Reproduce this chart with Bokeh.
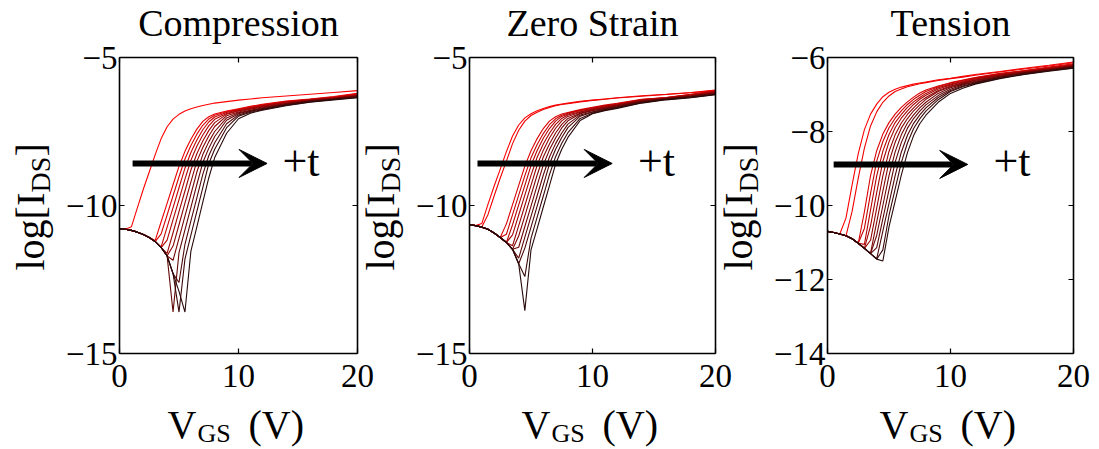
import numpy as np
from bokeh.plotting import figure
from bokeh.models import Range1d, LinearAxis, FixedTicker, Label, Arrow, VeeHead
from bokeh.embed import file_html
from bokeh.resources import INLINE

# ---------------- data ----------------
V_GS = [0, 0.5, 1, 1.5, 2, 2.5, 3, 3.5, 4, 4.5, 5, 5.5, 6, 6.5, 7, 7.5, 8, 9, 10, 11, 12, 14, 16, 18, 20]

TITLES = ["Compression", "Zero Strain", "Tension"]
Y_LIMITS = [(-15, -5), (-15, -5), (-14, -6)]
Y_TICKS = [[-15, -10, -5], [-15, -10, -5], [-14, -12, -10, -8, -6]]
X_LIMITS = (0, 20)
X_TICKS = [0, 10, 20]

# log10 of drain current, one list per measurement (red = first, dark = last)
COMPRESSION = [
    [-10.78, -10.80, -10.72, -10.08, -9.45, -8.87, -8.28, -7.74, -7.34, -7.08, -6.92, -6.81, -6.73, -6.67, -6.62, -6.58, -6.54, -6.49, -6.44, -6.40, -6.36, -6.30, -6.24, -6.18, -6.12],
    [-10.78, -10.80, -10.84, -10.90, -10.98, -11.08, -11.18, -10.55, -9.93, -9.30, -8.68, -8.17, -7.76, -7.42, -7.16, -7.00, -6.91, -6.81, -6.73, -6.65, -6.58, -6.47, -6.40, -6.32, -6.21],
    [-10.78, -10.80, -10.84, -10.90, -10.98, -11.08, -11.22, -10.96, -10.32, -9.67, -9.03, -8.43, -7.97, -7.59, -7.29, -7.08, -6.95, -6.83, -6.75, -6.67, -6.60, -6.49, -6.41, -6.34, -6.23],
    [-10.78, -10.80, -10.84, -10.90, -10.98, -11.08, -11.22, -11.40, -10.73, -10.07, -9.40, -8.74, -8.21, -7.79, -7.44, -7.18, -7.01, -6.86, -6.77, -6.69, -6.62, -6.50, -6.42, -6.35, -6.25],
    [-10.78, -10.80, -10.84, -10.90, -10.98, -11.08, -11.22, -11.42, -11.17, -10.48, -9.80, -9.11, -8.47, -8.00, -7.62, -7.31, -7.09, -6.89, -6.79, -6.71, -6.63, -6.51, -6.43, -6.36, -6.26],
    [-10.78, -10.80, -10.84, -10.90, -10.98, -11.08, -11.22, -11.42, -11.62, -10.92, -10.21, -9.51, -8.80, -8.25, -7.82, -7.47, -7.20, -6.92, -6.81, -6.73, -6.65, -6.53, -6.44, -6.37, -6.28],
    [-10.78, -10.80, -10.84, -10.90, -10.98, -11.08, -11.22, -11.42, -11.70, -11.37, -10.65, -9.92, -9.20, -8.51, -8.04, -7.65, -7.33, -6.97, -6.84, -6.75, -6.67, -6.55, -6.45, -6.38, -6.29],
    [-10.78, -10.80, -10.84, -10.90, -10.98, -11.08, -11.22, -11.42, -11.70, -11.85, -11.11, -10.36, -9.62, -8.87, -8.28, -7.85, -7.50, -7.04, -6.87, -6.78, -6.70, -6.56, -6.46, -6.39, -6.30],
    [-10.78, -10.80, -10.84, -10.90, -10.98, -11.08, -11.22, -11.42, -11.70, -13.60, -11.59, -10.82, -10.06, -9.29, -8.55, -8.07, -7.67, -7.12, -6.90, -6.80, -6.72, -6.58, -6.47, -6.40, -6.32],
    [-10.78, -10.80, -10.84, -10.90, -10.98, -11.08, -11.22, -11.42, -11.70, -12.30, -12.60, -11.31, -10.52, -9.74, -8.95, -8.32, -7.88, -7.24, -6.94, -6.82, -6.74, -6.59, -6.48, -6.41, -6.33],
    [-10.78, -10.80, -10.84, -10.90, -10.98, -11.08, -11.22, -11.42, -11.70, -12.30, -13.60, -11.81, -11.00, -10.20, -9.40, -8.59, -8.10, -7.37, -6.98, -6.85, -6.76, -6.61, -6.50, -6.42, -6.35],
    [-10.78, -10.80, -10.84, -10.90, -10.98, -11.08, -11.22, -11.42, -11.70, -12.30, -12.90, -13.60, -11.54, -10.72, -9.89, -9.07, -8.38, -7.56, -7.07, -6.88, -6.78, -6.63, -6.51, -6.43, -6.36],
]

ZERO_STRAIN = [
    [-10.65, -10.68, -10.61, -9.96, -9.35, -8.77, -8.18, -7.65, -7.28, -7.04, -6.90, -6.80, -6.72, -6.66, -6.61, -6.57, -6.54, -6.48, -6.44, -6.40, -6.36, -6.29, -6.24, -6.18, -6.10],
    [-10.65, -10.68, -10.73, -10.31, -9.68, -9.07, -8.50, -7.91, -7.46, -7.15, -6.96, -6.85, -6.76, -6.69, -6.63, -6.59, -6.56, -6.50, -6.45, -6.41, -6.37, -6.31, -6.25, -6.19, -6.12],
    [-10.65, -10.68, -10.73, -10.80, -10.93, -11.08, -10.62, -9.97, -9.32, -8.67, -8.15, -7.74, -7.40, -7.15, -7.00, -6.91, -6.86, -6.76, -6.68, -6.61, -6.55, -6.41, -6.35, -6.24, -6.12],
    [-10.65, -10.68, -10.73, -10.80, -10.93, -11.08, -10.97, -10.31, -9.65, -8.99, -8.39, -7.94, -7.57, -7.27, -7.07, -6.95, -6.88, -6.78, -6.70, -6.63, -6.57, -6.42, -6.35, -6.25, -6.13],
    [-10.65, -10.68, -10.73, -10.80, -10.93, -11.08, -11.25, -10.65, -9.98, -9.32, -8.65, -8.14, -7.73, -7.40, -7.15, -6.99, -6.91, -6.80, -6.72, -6.64, -6.58, -6.43, -6.36, -6.26, -6.15],
    [-10.65, -10.68, -10.73, -10.80, -10.93, -11.08, -11.25, -10.99, -10.32, -9.65, -8.98, -8.37, -7.92, -7.56, -7.26, -7.06, -6.94, -6.83, -6.74, -6.66, -6.60, -6.44, -6.37, -6.27, -6.16],
    [-10.65, -10.68, -10.73, -10.80, -10.93, -11.08, -11.25, -11.36, -10.68, -10.00, -9.32, -8.64, -8.13, -7.72, -7.39, -7.14, -6.99, -6.85, -6.76, -6.68, -6.61, -6.46, -6.38, -6.29, -6.18],
    [-10.65, -10.68, -10.73, -10.80, -10.93, -11.08, -11.25, -11.48, -11.03, -10.35, -9.66, -8.97, -8.36, -7.92, -7.55, -7.26, -7.06, -6.88, -6.78, -6.70, -6.63, -6.47, -6.38, -6.30, -6.19],
    [-10.65, -10.68, -10.73, -10.80, -10.93, -11.08, -11.25, -11.48, -11.41, -10.71, -10.02, -9.32, -8.63, -8.12, -7.72, -7.38, -7.14, -6.90, -6.80, -6.72, -6.64, -6.48, -6.39, -6.31, -6.21],
    [-10.65, -10.68, -10.73, -10.80, -10.93, -11.08, -11.25, -11.48, -11.78, -11.07, -10.37, -9.67, -8.97, -8.36, -7.91, -7.55, -7.25, -6.94, -6.83, -6.74, -6.66, -6.49, -6.40, -6.32, -6.22],
    [-10.65, -10.68, -10.73, -10.80, -10.93, -11.08, -11.25, -11.48, -11.97, -11.44, -10.73, -10.02, -9.31, -8.60, -8.10, -7.70, -7.37, -6.98, -6.85, -6.76, -6.68, -6.51, -6.41, -6.33, -6.24],
    [-10.65, -10.68, -10.73, -10.80, -10.93, -11.08, -11.25, -11.48, -11.97, -12.40, -11.11, -10.39, -9.68, -8.96, -8.35, -7.90, -7.54, -7.06, -6.88, -6.78, -6.70, -6.53, -6.42, -6.35, -6.25],
    [-10.65, -10.68, -10.73, -10.80, -10.93, -11.08, -11.25, -11.48, -11.97, -13.55, -11.50, -10.78, -10.05, -9.33, -8.60, -8.10, -7.70, -7.13, -6.90, -6.80, -6.72, -6.54, -6.43, -6.36, -6.26],
]

TENSION = [
    [-10.70, -10.73, -10.77, -10.34, -9.44, -8.60, -7.95, -7.53, -7.26, -7.06, -6.94, -6.86, -6.80, -6.76, -6.72, -6.69, -6.66, -6.60, -6.56, -6.51, -6.46, -6.38, -6.29, -6.21, -6.12],
    [-10.70, -10.73, -10.77, -10.82, -10.16, -9.26, -8.45, -7.85, -7.47, -7.21, -7.04, -6.92, -6.85, -6.79, -6.75, -6.71, -6.68, -6.62, -6.57, -6.53, -6.48, -6.39, -6.31, -6.23, -6.14],
    [-10.70, -10.73, -10.77, -10.82, -10.90, -11.02, -10.17, -9.19, -8.52, -8.07, -7.76, -7.53, -7.35, -7.20, -7.07, -6.96, -6.88, -6.77, -6.68, -6.61, -6.54, -6.43, -6.35, -6.26, -6.17],
    [-10.70, -10.73, -10.77, -10.82, -10.90, -11.02, -10.62, -9.67, -8.80, -8.27, -7.90, -7.64, -7.44, -7.27, -7.13, -7.02, -6.92, -6.79, -6.69, -6.62, -6.55, -6.45, -6.36, -6.28, -6.19],
    [-10.70, -10.73, -10.77, -10.82, -10.90, -11.02, -11.05, -10.12, -9.20, -8.53, -8.08, -7.76, -7.54, -7.35, -7.20, -7.08, -6.97, -6.82, -6.72, -6.64, -6.57, -6.46, -6.37, -6.29, -6.20],
    [-10.70, -10.73, -10.77, -10.82, -10.90, -11.02, -11.16, -10.55, -9.65, -8.81, -8.28, -7.90, -7.64, -7.44, -7.27, -7.13, -7.02, -6.85, -6.74, -6.66, -6.59, -6.47, -6.38, -6.30, -6.21],
    [-10.70, -10.73, -10.77, -10.82, -10.90, -11.02, -11.16, -10.94, -10.07, -9.20, -8.54, -8.09, -7.77, -7.54, -7.36, -7.20, -7.08, -6.89, -6.77, -6.68, -6.61, -6.48, -6.39, -6.31, -6.22],
    [-10.70, -10.73, -10.77, -10.82, -10.90, -11.02, -11.16, -11.29, -10.45, -9.61, -8.82, -8.29, -7.91, -7.65, -7.44, -7.28, -7.13, -6.92, -6.79, -6.70, -6.62, -6.50, -6.40, -6.32, -6.23],
    [-10.70, -10.73, -10.77, -10.82, -10.90, -11.02, -11.16, -11.30, -10.81, -10.00, -9.19, -8.55, -8.09, -7.77, -7.55, -7.36, -7.21, -6.97, -6.82, -6.72, -6.64, -6.51, -6.41, -6.33, -6.24],
    [-10.70, -10.73, -10.77, -10.82, -10.90, -11.02, -11.16, -11.30, -11.14, -10.36, -9.58, -8.83, -8.30, -7.91, -7.65, -7.45, -7.28, -7.03, -6.86, -6.74, -6.66, -6.53, -6.42, -6.34, -6.25],
    [-10.70, -10.73, -10.77, -10.82, -10.90, -11.02, -11.16, -11.30, -11.44, -10.69, -9.94, -9.19, -8.56, -8.10, -7.78, -7.55, -7.36, -7.08, -6.89, -6.77, -6.68, -6.54, -6.43, -6.35, -6.26],
    [-10.70, -10.73, -10.77, -10.82, -10.90, -11.02, -11.16, -11.30, -11.45, -11.20, -10.27, -9.55, -8.84, -8.31, -7.92, -7.66, -7.45, -7.14, -6.92, -6.79, -6.70, -6.56, -6.45, -6.36, -6.28],
    [-10.70, -10.73, -10.77, -10.82, -10.90, -11.02, -11.16, -11.30, -11.45, -11.50, -10.58, -9.88, -9.18, -8.57, -8.11, -7.79, -7.56, -7.21, -6.97, -6.83, -6.72, -6.57, -6.46, -6.37, -6.29],
]

# "+t" arrow annotation: (x start, x end, y) and text anchor (x, y)
ARROWS = [(1.1, 12.4, -8.58), (0.65, 11.6, -8.58), (0.5, 11.4, -8.89)]
ARROW_TEXT = [(13.7, -8.99), (13.7, -8.99), (13.5, -9.19)]

# ---------------- layout / style ----------------
FONT = "Liberation Serif"
W, H = 1099, 449
BOX_LEFT = [119, 469, 827]      # pixel position of each panel's box
BOX_RIGHT = [357, 715, 1073]
BOX_TOP, BOX_BOTTOM = 57, 353
MINUS = "\u2212"
BASE_FIX = 0.32                 # baseline correction (fraction of font size)


def shade(k, n):
    t = k / (n - 1)
    r = int(round(255 - 215 * t))
    g = int(round(10 * t))
    return "#%02x%02x%02x" % (r, g, g)


def screen_label(p, x, y_from_top, text, size, **kw):
    """Horizontal label with its baseline at canvas row y_from_top."""
    p.add_layout(Label(x=x, y=H - y_from_top + BASE_FIX * size, x_units="screen", y_units="screen",
                       text=text, text_font=FONT, text_font_size="%dpx" % size,
                       text_baseline="alphabetic", text_color="black", **kw))


def vertical_label(p, baseline_x, start_from_top, text, size):
    p.add_layout(Label(x=baseline_x - BASE_FIX * size, y=H - start_from_top,
                       x_units="screen", y_units="screen", angle=np.pi / 2,
                       text=text, text_font=FONT, text_font_size="%dpx" % size,
                       text_align="left", text_baseline="alphabetic", text_color="black"))


p = figure(width=W, height=H, x_range=Range1d(0, W), y_range=Range1d(0, H),
           x_axis_type=None, y_axis_type=None,
           output_backend="svg", toolbar_location=None,
           min_border_left=0, min_border_right=0, min_border_top=0, min_border_bottom=0)
p.grid.visible = False
p.outline_line_color = None
p.background_fill_color = "white"
p.border_fill_color = "white"

for i, (title, curves) in enumerate(zip(TITLES, [COMPRESSION, ZERO_STRAIN, TENSION])):
    ylo, yhi = Y_LIMITS[i]
    xlo, xhi = X_LIMITS
    L, R = BOX_LEFT[i], BOX_RIGHT[i]
    ppx = (R - L) / (xhi - xlo)
    ppy = (BOX_BOTTOM - BOX_TOP) / (yhi - ylo)
    xr, yr = "x%d" % i, "y%d" % i
    p.extra_x_ranges[xr] = Range1d(xlo - L / ppx, xlo + (W - L) / ppx)
    p.extra_y_ranges[yr] = Range1d(ylo - (H - BOX_BOTTOM) / ppy, yhi + BOX_TOP / ppy)

    n = len(curves)
    for k, ys in enumerate(curves):
        p.line(V_GS, ys, line_color=shade(k, n), line_width=1.1,
               x_range_name=xr, y_range_name=yr)

    ylabels = {t: (MINUS + str(-t)) if t < 0 else str(t) for t in Y_TICKS[i]}
    common = dict(x_range_name=xr, y_range_name=yr, major_tick_in=5, major_tick_out=0,
                  minor_tick_line_color=None, major_tick_line_width=1.2,
                  axis_line_width=1.6, axis_line_color="black",
                  major_label_text_font=FONT, major_label_text_font_size="33px",
                  major_label_text_color="black")
    bottom = LinearAxis(ticker=FixedTicker(ticks=X_TICKS), fixed_location=ylo, bounds=(xlo, xhi),
                        major_label_overrides={t: str(t) for t in X_TICKS},
                        major_label_standoff=11, **common)
    left = LinearAxis(ticker=FixedTicker(ticks=Y_TICKS[i]), fixed_location=xlo, bounds=(ylo, yhi),
                      major_label_overrides=ylabels, major_label_standoff=2, **common)
    hidden = dict(common, major_label_text_color=None, major_label_text_font_size="6px")
    top = LinearAxis(ticker=FixedTicker(ticks=X_TICKS), fixed_location=yhi, bounds=(xlo, xhi), **hidden)
    right = LinearAxis(ticker=FixedTicker(ticks=Y_TICKS[i]), fixed_location=xhi, bounds=(ylo, yhi), **hidden)
    p.add_layout(bottom, "below")
    p.add_layout(left, "left")
    p.add_layout(top, "above")
    p.add_layout(right, "right")

    cx = (L + R) / 2
    # title
    screen_label(p, cx, 35, title, 38, text_align="center")

    # x label  V_GS (V)
    xs = cx - 71
    screen_label(p, xs, 437, "V", 40, text_align="left")
    screen_label(p, xs + 30, 441, "GS", 26, text_align="left")
    screen_label(p, xs + 81, 437, "(V)", 40, text_align="left")

    # y label  log[I_DS] (rotated, reads bottom to top)
    bx = L - 76.6
    vertical_label(p, bx, 270, "log[I", 40)
    vertical_label(p, bx + 7, 192, "DS", 28)
    vertical_label(p, bx, 156, "]", 40)

    # arrow and "+t"
    x0, x1, ya = ARROWS[i]
    p.add_layout(Arrow(end=VeeHead(size=28, fill_color="black", line_color="black", line_width=1),
                       x_start=x0, y_start=ya, x_end=x1, y_end=ya,
                       x_range_name=xr, y_range_name=yr,
                       line_width=6, line_color="black"))
    tx, ty = ARROW_TEXT[i]
    p.add_layout(Label(x=tx, y=ty, y_offset=BASE_FIX * 44, x_range_name=xr, y_range_name=yr,
                       text="+t", text_font=FONT, text_font_size="44px",
                       text_baseline="alphabetic", text_color="black"))

open("out.html", "w").write(file_html(p, INLINE))
